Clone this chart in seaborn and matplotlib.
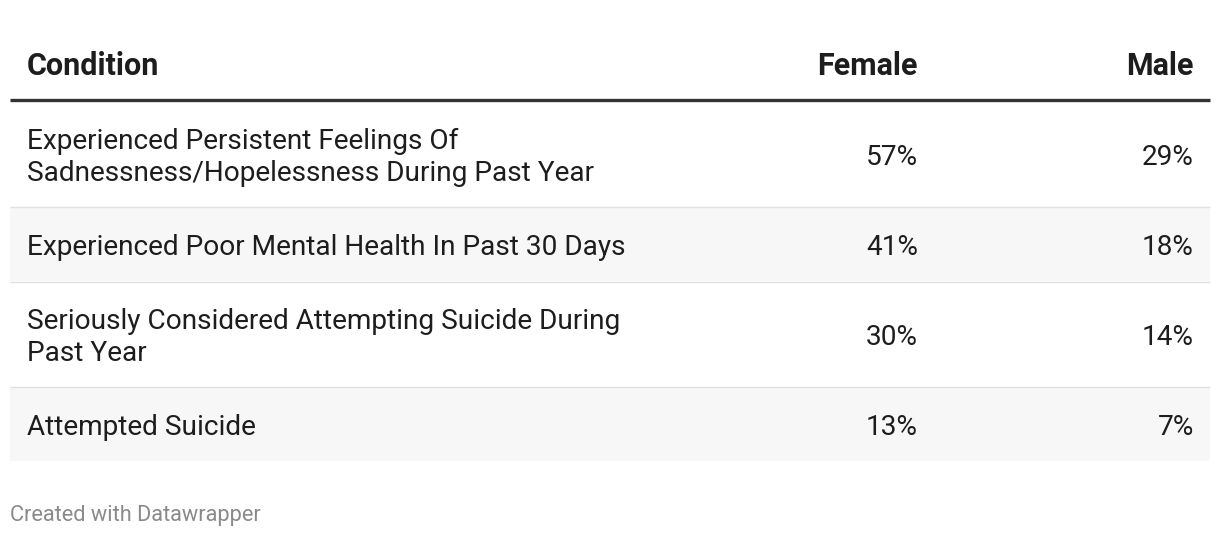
import matplotlib
matplotlib.use("Agg")
import matplotlib.pyplot as plt
import seaborn as sns
import pandas as pd

# ---- data ----
headers = ["Condition", "Female", "Male"]
conditions = [
    "Experienced Persistent Feelings Of\nSadnessness/Hopelessness During Past Year",
    "Experienced Poor Mental Health In Past 30 Days",
    "Seriously Considered Attempting Suicide During\nPast Year",
    "Attempted Suicide",
]
female = [57, 41, 30, 13]
male = [29, 18, 14, 7]
footer = "Created with Datawrapper"

df = pd.DataFrame({"Condition": conditions, "Female": female, "Male": male})

sns.set_theme(style="white")
plt.rcParams["font.family"] = ["Roboto", "DejaVu Sans"]

W, H = 1220, 536
fig = plt.figure(figsize=(W / 100, H / 100), dpi=100)
ax = fig.add_axes([0, 0, 1, 1])
ax.set_xlim(0, W)
ax.set_ylim(H, 0)
ax.axis("off")

left, right = 10, 1210
text_x = 27
fem_x = 918
male_x = 1194
txt_color = "#1d1d1d"
body_fs = 20.2
head_fs = 22

# header
head_y = 66
ax.text(text_x, head_y, headers[0], fontsize=head_fs, fontweight="bold", color=txt_color, va="center", ha="left")
ax.text(fem_x, head_y, headers[1], fontsize=head_fs, fontweight="bold", color=txt_color, va="center", ha="right")
ax.text(male_x, head_y, headers[2], fontsize=head_fs, fontweight="bold", color=txt_color, va="center", ha="right")
ax.plot([left, right], [100, 100], color="#333333", lw=2.4, solid_capstyle="butt")

# rows
y = 102
for i, row in df.iterrows():
    n_lines = row["Condition"].count("\n") + 1
    h = 104 if n_lines == 2 else 74
    if i % 2 == 1:
        ax.axhspan(y, y + h, xmin=left / W, xmax=right / W, color="#f7f7f7", lw=0, zorder=0)
    cy = y + h / 2 + 3.5
    ax.text(text_x, cy, row["Condition"], fontsize=body_fs, color=txt_color, va="center", ha="left", linespacing=1.22)
    ax.text(fem_x, cy, f"{row['Female']}%", fontsize=body_fs, color=txt_color, va="center", ha="right")
    ax.text(male_x, cy, f"{row['Male']}%", fontsize=body_fs, color=txt_color, va="center", ha="right")
    y += h
    if i < len(df) - 1:
        ax.plot([left, right], [y + 0.5, y + 0.5], color="#e0e0e0", lw=1, solid_capstyle="butt")
        y += 1

ax.text(left, 515, footer, fontsize=15.7, color="#8a8a8a", va="center", ha="left")

fig.savefig("out.png", dpi=100, facecolor="white")
